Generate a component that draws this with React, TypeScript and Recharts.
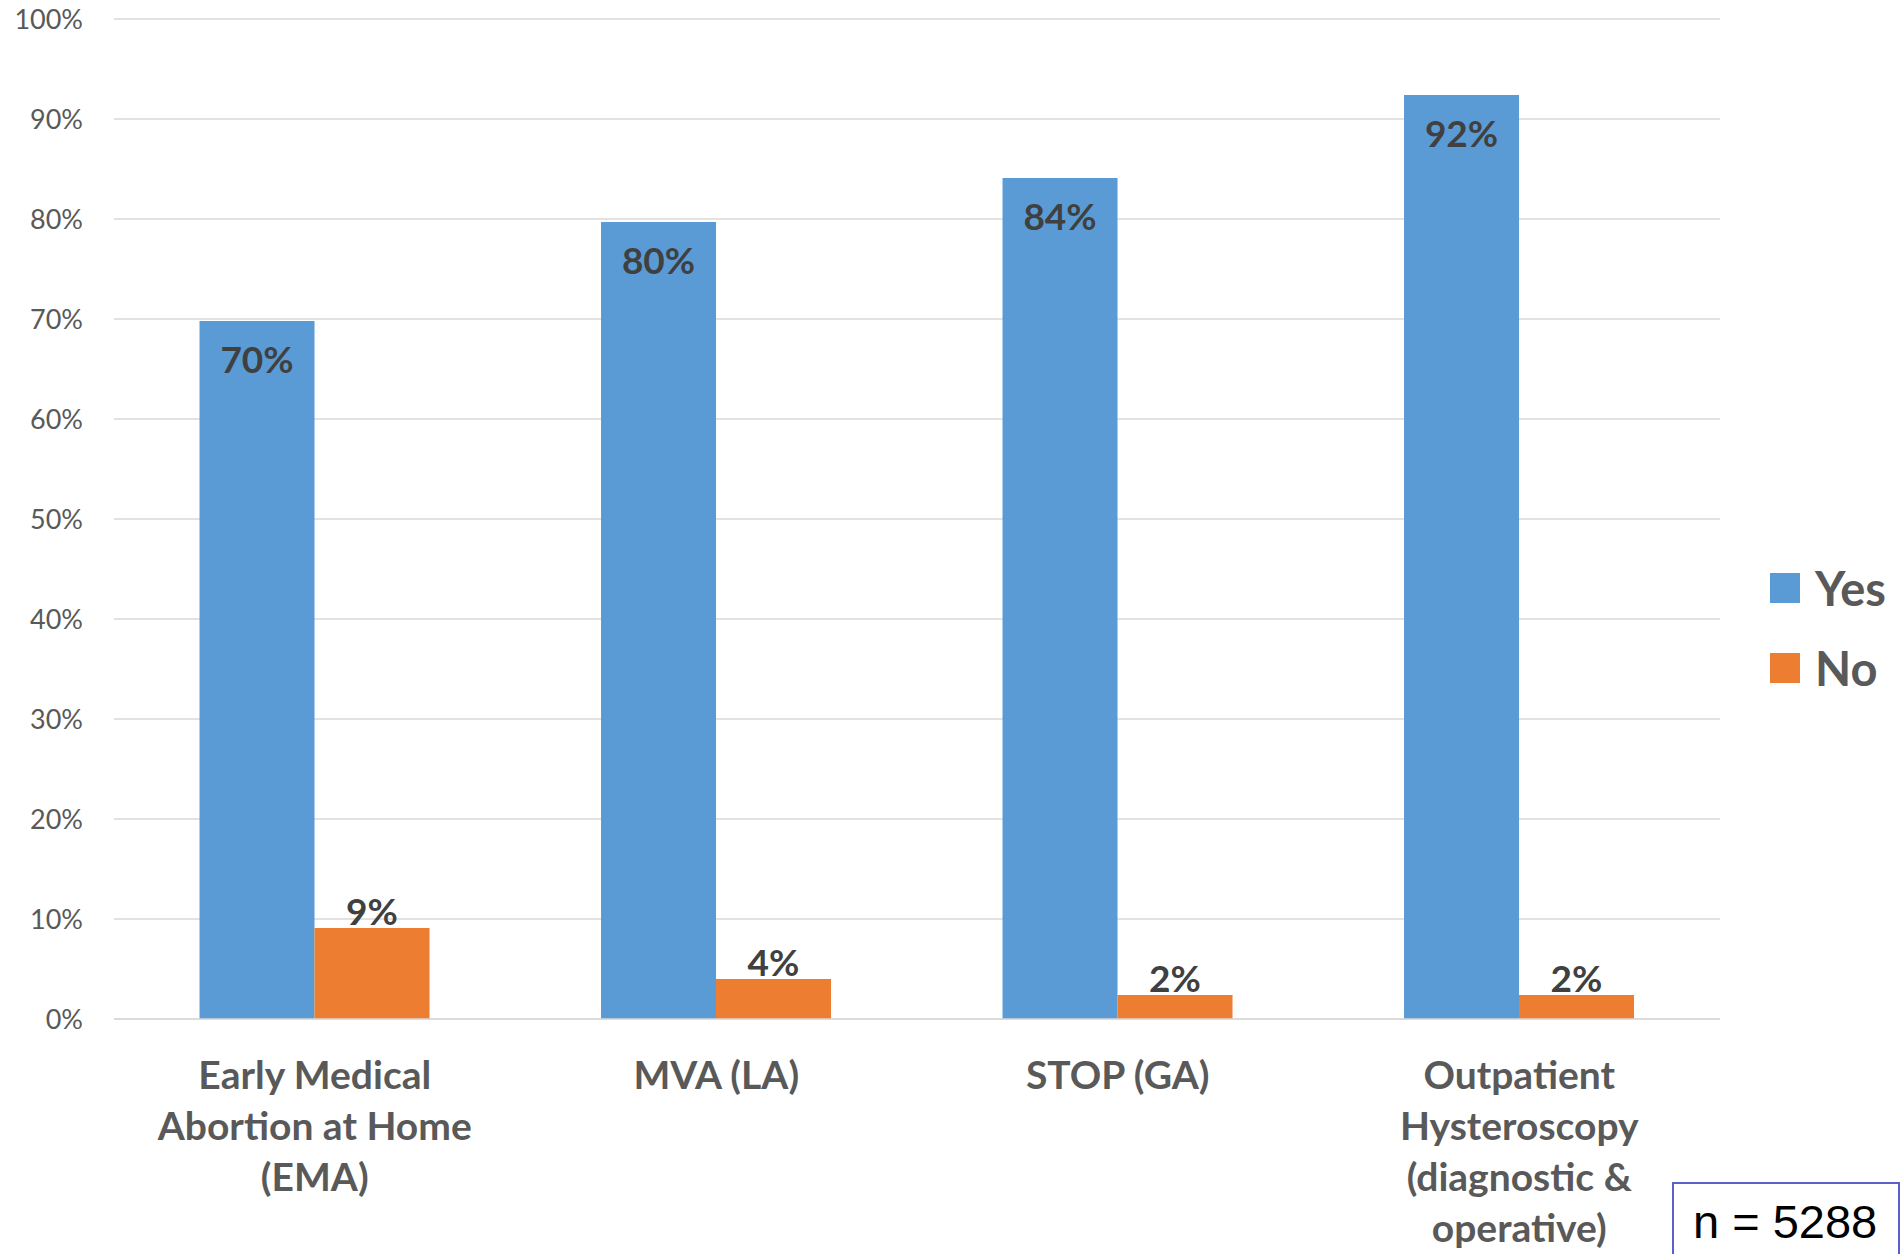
import React from 'react';
import { BarChart, Bar, XAxis, YAxis, CartesianGrid, Legend, LabelList } from 'recharts';

// Share of respondents answering Yes / No for each procedure
const categories: string[] = [
  'Early Medical\nAbortion at Home\n(EMA)',
  'MVA (LA)',
  'STOP (GA)',
  'Outpatient\nHysteroscopy\n(diagnostic &\noperative)',
];
const yesValues: number[] = [69.8, 79.7, 84.1, 92.4];
const noValues: number[] = [9.1, 4.0, 2.4, 2.4];
const yTicks: number[] = [0, 10, 20, 30, 40, 50, 60, 70, 80, 90, 100];
const seriesOrder: string[] = ['yes', 'no'];
const sampleNote = 'n = 5288';

const data = categories.map((name, i) => ({ name, yes: yesValues[i], no: noValues[i] }));

const FONT = 'Lato, "Open Sans", sans-serif';
const BLUE = '#5B9BD5';
const ORANGE = '#ED7D31';

const pct = (v: any) => `${Math.round(Number(v))}%`;

const CategoryTick = (props: any) => {
  const { x, y, payload } = props;
  const lines = String(payload.value).split('\n');
  return (
    <text
      x={x}
      y={y}
      textAnchor="middle"
      fontFamily={FONT}
      fontWeight={700}
      fontSize={39}
      fill="#595959"
    >
      {lines.map((line, i) => (
        <tspan key={i} x={x} dy={i === 0 ? 62 : 51}>
          {line}
        </tspan>
      ))}
    </text>
  );
};

const LegendContent = (props: any) => {
  const items = [...(props.payload || [])].sort(
    (a: any, b: any) => seriesOrder.indexOf(a.dataKey) - seriesOrder.indexOf(b.dataKey)
  );
  return (
    <div style={{ fontFamily: FONT }}>
      {items.map((it: any, i: number) => (
        <div
          key={i}
          style={{ display: 'flex', alignItems: 'center', height: 80 }}
        >
          <span
            style={{ width: 30, height: 30, background: it.color, display: 'inline-block', marginRight: 15 }}
          />
          <span style={{ fontSize: 47, fontWeight: 700, color: '#595959', lineHeight: '47px' }}>
            {it.value}
          </span>
        </div>
      ))}
    </div>
  );
};

export default function App() {
  return (
    <div style={{ position: 'absolute', left: 0, top: 0, width: 1903, height: 1254, background: '#fff', overflow: 'hidden' }}>
      <BarChart
        width={1903}
        height={1254}
        data={data}
        margin={{ top: 19, right: 183, bottom: 0, left: 0 }}
        barCategoryGap="21.3%"
        barGap={0}
      >
        <CartesianGrid vertical={false} stroke="#D9D9D9" strokeWidth={1.5} />
        <XAxis
          dataKey="name"
          height={235}
          tick={<CategoryTick />}
          tickLine={false}
          axisLine={{ stroke: '#D9D9D9', strokeWidth: 1.5 }}
          interval={0}
        />
        <YAxis
          width={114}
          domain={[0, 100]}
          ticks={yTicks}
          tickFormatter={(v: number) => `${v}%`}
          tickLine={false}
          axisLine={false}
          tickSize={0}
          tickMargin={31}
          tick={{ fontFamily: FONT, fontSize: 27, fill: '#595959' }}
        />
        <Legend
          layout="vertical"
          align="center"
          verticalAlign="middle"
          content={<LegendContent />}
          wrapperStyle={{ left: 1770, top: 548, width: 140 }}
        />
        <Bar dataKey="yes" name="Yes" fill={BLUE} isAnimationActive={false}>
          <LabelList
            dataKey="yes"
            position="insideTop"
            offset={26}
            formatter={pct}
            style={{ fontFamily: FONT, fontWeight: 700, fontSize: 37, fill: '#404040' }}
          />
        </Bar>
        <Bar dataKey="no" name="No" fill={ORANGE} isAnimationActive={false}>
          <LabelList
            dataKey="no"
            position="top"
            offset={3}
            formatter={pct}
            style={{ fontFamily: FONT, fontWeight: 700, fontSize: 37, fill: '#404040' }}
          />
        </Bar>
      </BarChart>
      <div
        style={{
          position: 'absolute',
          left: 1672,
          top: 1182,
          width: 228,
          height: 90,
          boxSizing: 'border-box',
          border: '2px solid #5B5FC7',
          background: '#fff',
          fontFamily: '"Liberation Sans", Arial, sans-serif',
          fontSize: 47,
          color: '#000',
          paddingLeft: 19,
          paddingTop: 10,
          lineHeight: '56px',
          whiteSpace: 'nowrap',
        }}
      >
        {sampleNote}
      </div>
    </div>
  );
}
